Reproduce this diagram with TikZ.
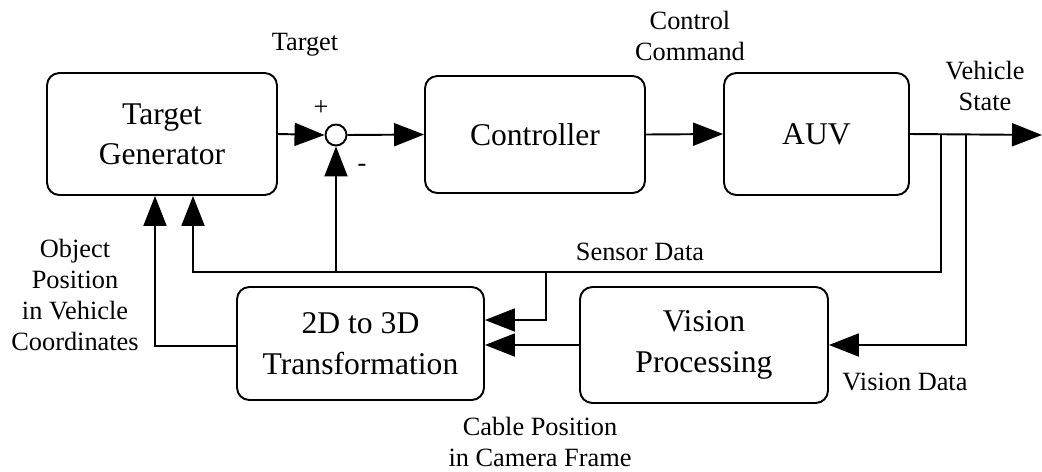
\documentclass[tikz,border=0pt]{standalone}
\usepackage{fontspec}
\setmainfont{Liberation Serif}
\usetikzlibrary{arrows.meta}
\begin{document}
\begin{tikzpicture}[x=0.02cm, y=-0.02cm, line width=1.1pt,
  block/.style 2 args={draw, rounded corners=7pt, minimum width=#1,
               minimum height=#2, align=center, font=\fontsize{18}{23}\selectfont},
  lbl/.style={align=center, font=\fontsize{15}{17.5}\selectfont},
  arr/.style={-{Triangle[length=0.6cm,width=0.46cm]}}
]
  \useasboundingbox (0,0) rectangle (1042,471);
  \node[block={4.6cm}{2.44cm}]  (tg)   at (162,134)   {Target\\Generator};
  \node[block={4.4cm}{2.34cm}]  (ctrl) at (535,134.5) {Controller};
  \node[block={3.7cm}{2.44cm}]  (auv)  at (816.5,134) {AUV};
  \node[block={4.94cm}{2.26cm}] (td)   at (360.5,343.5) {2D to 3D\\Transformation};
  \node[block={4.96cm}{2.32cm}] (vis)  at (704,345)   {Vision\\Processing};
  \node[draw, circle, minimum size=0.42cm, inner sep=0pt] (sum) at (336,135) {};
  \coordinate (out)   at (1042,135);
  \coordinate (tapA)  at (941,135);
  \coordinate (tapB)  at (966,135);
  \coordinate (sensL) at (193,272);
  \coordinate (sensM) at (546,272);
  \coordinate (objL)  at (155,346);
  % forward path
  \draw[arr] (tg.east) -- (sum.west);
  \draw[arr] (sum.east) -- (ctrl.west);
  \draw[arr] (ctrl.east) -- (auv.west);
  \draw[arr] (auv.east) -- (out);
  % feedback
  \draw[arr] (tapA) |- (sensL) -- (sensL |- tg.south);
  \draw[arr] (sum |- sensL) -- (sum.south);
  \draw[arr] (sensM) |- ([yshift=0.47cm]td.east);
  \draw[arr] (tapB) |- (vis.east);
  \draw[arr] (vis.west) -- (vis.west -| td.east);
  \draw[arr] (td.west |- objL) -- (objL) -- (objL |- tg.south);
  % labels
  \node[lbl] (lTarget) at (305,45)  {Target};
  \node[lbl] (lPlus)   at (321,108) {+};
  \node[lbl] (lMinus)  at (362,168) {-};
  \node[lbl] (lCmd)    at (690,36)  {Control\\Command};
  \node[lbl] (lState)  at (985,86)  {Vehicle\\State};
  \node[lbl] (lSensor) at (640,252) {Sensor Data};
  \node[lbl] (lObj)    at (75,295)  {Object\\Position\\in Vehicle\\Coordinates};
  \node[lbl] (lVision) at (905,382) {Vision Data};
  \node[lbl] (lCable)  at (540,442) {Cable Position\\in Camera Frame};
\end{tikzpicture}
\end{document}
